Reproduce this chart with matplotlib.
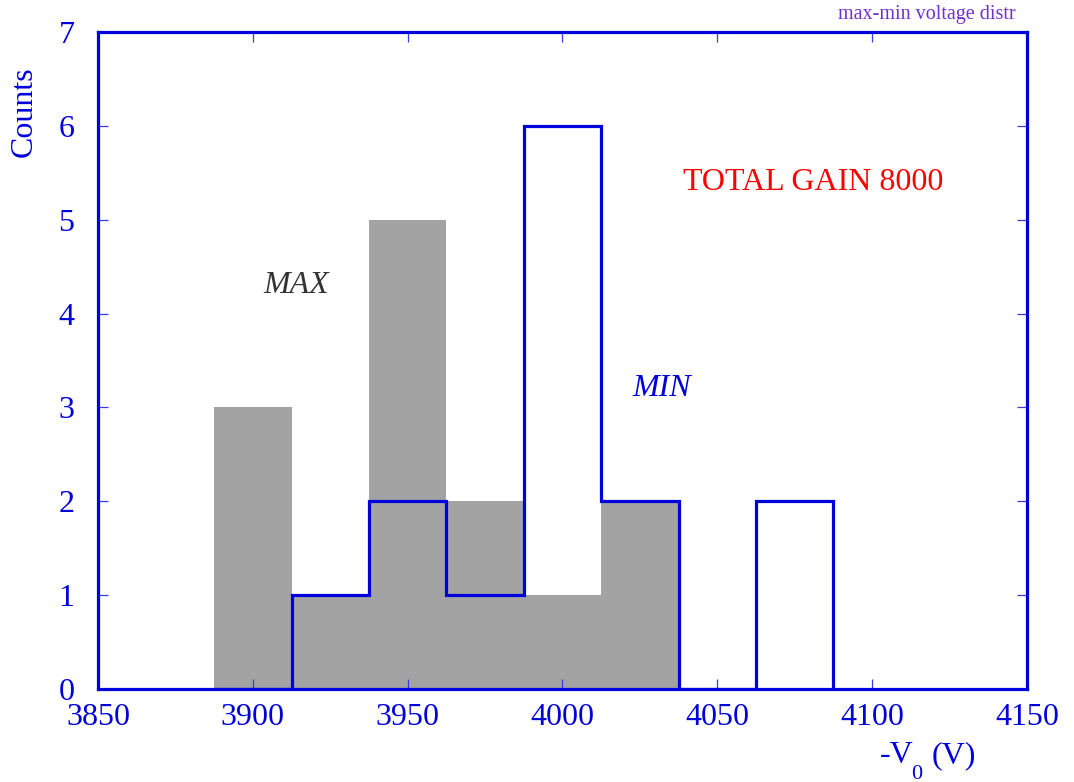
import matplotlib
matplotlib.use("Agg")
import matplotlib.pyplot as plt

plt.rcParams['font.family'] = ['Liberation Serif', 'DejaVu Serif']

# Histogram binning (25 V bins) and counts
bin_edges = [3887.5, 3912.5, 3937.5, 3962.5, 3987.5, 4012.5, 4037.5, 4062.5, 4087.5]
max_counts = [3, 1, 5, 2, 1, 2, 0, 0]
min_counts = [0, 1, 2, 1, 6, 2, 0, 2]

x_ticks = [3850, 3900, 3950, 4000, 4050, 4100, 4150]
y_ticks = [0, 1, 2, 3, 4, 5, 6, 7]

BLUE = '#0000dd'
TICK_BLUE = '#3a3ae0'

W, H = 1074, 782
fig = plt.figure(figsize=(W / 100, H / 100), dpi=100)
ax = fig.add_axes([98 / W, 1 - 689 / H, (1027 - 98) / W, (689 - 32) / H])

ax.stairs(max_counts, bin_edges, fill=True, color='#a3a3a3', zorder=1)
ax.stairs(min_counts, bin_edges, color=BLUE, linewidth=2.3, zorder=2)

ax.set_xlim(3850, 4150)
ax.set_ylim(0, 7)
ax.set_xticks(x_ticks)
ax.set_yticks(y_ticks)
ax.tick_params(axis='both', which='major', direction='in', length=7,
               width=0.9, color=TICK_BLUE, labelcolor=BLUE, labelsize=23,
               top=True, right=True)
ax.tick_params(axis='x', pad=10)
ax.tick_params(axis='y', pad=17)
for sp in ax.spines.values():
    sp.set_color(BLUE)
    sp.set_linewidth(2.3)
    sp.set_zorder(5)

ax.text(3914, 4.3, 'MAX', fontsize=23, style='italic', color='#333333',
        ha='center', va='center')
ax.text(4032, 3.2, 'MIN', fontsize=23, style='italic', color=BLUE,
        ha='center', va='center')
ax.text(4081, 5.4, 'TOTAL GAIN 8000', fontsize=23, color='#ff0000',
        ha='center', va='center')

fig.text(24 / W, 1 - 112 / H, 'Counts', rotation=90, fontsize=23,
         color=BLUE, ha='center', va='center')

# x-axis title: -V with a low subscript 0, then the unit
fig.text(880 / W, 1 - 763 / H, '-V', fontsize=23, color=BLUE,
         ha='left', va='baseline')
fig.text(911 / W, 1 - 779 / H, '0', fontsize=16, color=BLUE,
         ha='left', va='baseline')
fig.text(932 / W, 1 - 763 / H, '(V)', fontsize=23, color=BLUE,
         ha='left', va='baseline')

fig.text(1016 / W, 1 - 14 / H, 'max-min voltage distr', fontsize=14.5,
         color='#7030d0', ha='right', va='center')

fig.savefig('out.png', dpi=100)
